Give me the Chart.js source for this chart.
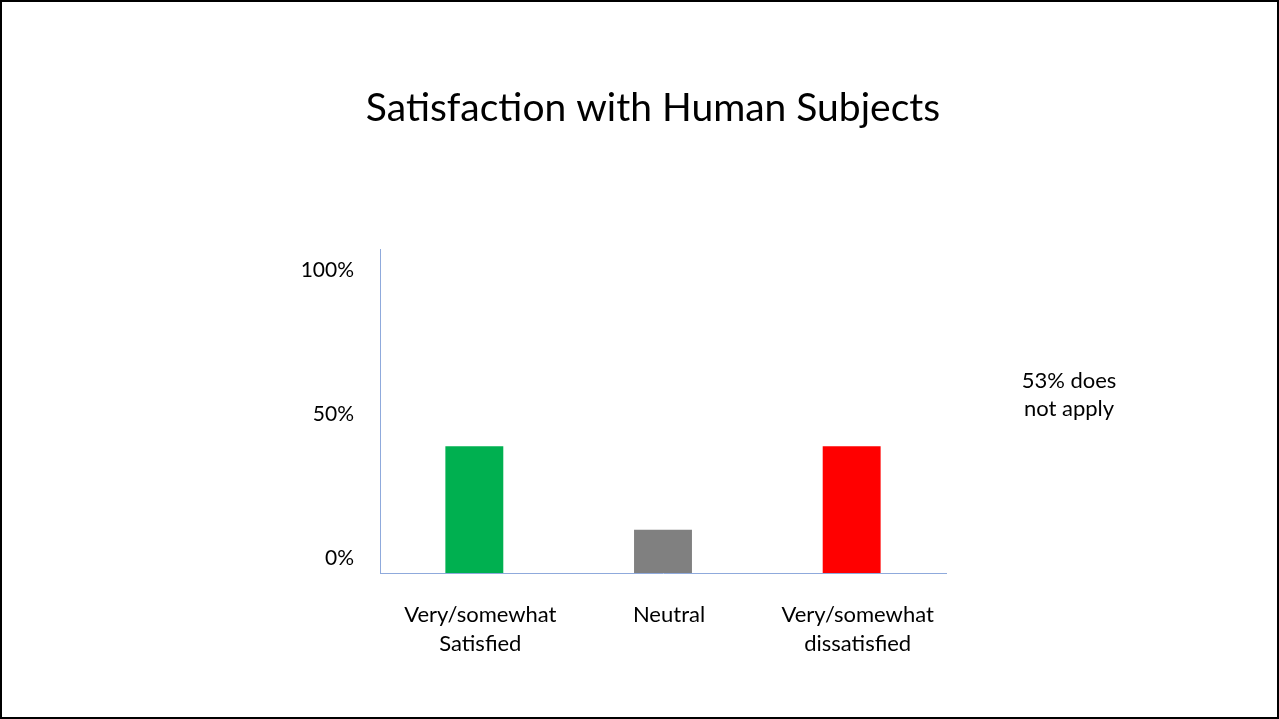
<!DOCTYPE html>
<html>
<head>
<meta charset="utf-8">
<script src="https://cdn.jsdelivr.net/npm/chart.js@4/dist/chart.umd.min.js"></script>
<style>
  body { margin: 0; background: #fff; }
  #wrap { position: relative; width: 1279px; height: 719px; }
  #chart { position: absolute; left: 0; top: 0; }
  #frame { position: absolute; left: 0; top: 0; width: 1279px; height: 719px; box-sizing: border-box; border: 2px solid #000; pointer-events: none; }
</style>
</head>
<body>
<div id="wrap">
  <canvas id="chart" width="1279" height="719"></canvas>
  <div id="frame"></div>
</div>
<script>
const categories = [["Very/somewhat", "Satisfied"], "Neutral", ["Very/somewhat", "dissatisfied"]];
const shares = [44, 15, 44];
const barColors = ["#00b050", "#808080", "#ff0000"];
const tickValues = [0, 50, 100];
const chartTitle = "Satisfaction with Human Subjects";
const sideNote = ["53% does", "not apply"];

const FONT = "Lato, 'Open Sans', sans-serif";
const axisBlue = "#8faadc";

// title and side note sit relative to the slide, not the plot area
const slideText = {
    id: "slideText",
    afterDraw: (chart) => {
        const ctx = chart.ctx;
        ctx.save();
        ctx.fillStyle = "#000";
        ctx.textAlign = "center";
        ctx.textBaseline = "middle";
        ctx.font = "39px " + FONT;
        ctx.fillText(chartTitle, 653, 108);
        ctx.font = "22px " + FONT;
        sideNote.forEach((line, i) => ctx.fillText(line, 1069, 381 + i * 28));
        ctx.restore();
    },
};

const getConfig = () => {
    return {
        type: "bar",
        data: {
            labels: categories,
            datasets: [
                {
                    data: shares,
                    backgroundColor: barColors,
                    barPercentage: 0.307,
                    categoryPercentage: 1,
                },
            ],
        },
        options: {
            responsive: false,
            animation: false,
            layout: {
                padding: { left: 0, right: 333, top: 249, bottom: 0 },
            },
            plugins: {
                legend: { display: false },
                tooltip: { enabled: false },
                title: { display: false },
            },
            scales: {
                x: {
                    grid: { display: false, drawTicks: false },
                    border: { display: true, color: axisBlue, width: 1 },
                    ticks: {
                        color: "#000",
                        font: { family: FONT, size: 22, lineHeight: 1.3 },
                        padding: 28,
                        labelOffset: 6,
                        maxRotation: 0,
                    },
                    afterFit: (scale) => { scale.height = 146; },
                },
                y: {
                    min: 0,
                    max: 112.5,
                    grid: { display: false, drawTicks: false },
                    border: { display: true, color: axisBlue, width: 1 },
                    afterBuildTicks: (scale) => {
                        scale.ticks = tickValues.map(v => ({ value: v }));
                    },
                    ticks: {
                        color: "#000",
                        font: { family: FONT, size: 21 },
                        padding: 26,
                        labelOffset: -15,
                        callback: (v) => v + "%",
                    },
                    afterFit: (scale) => { scale.width = 380; },
                },
            },
        },
        plugins: [slideText],
    };
};

const ctx = document.getElementById("chart").getContext("2d");
new Chart(ctx, getConfig());
</script>
</body>
</html>
